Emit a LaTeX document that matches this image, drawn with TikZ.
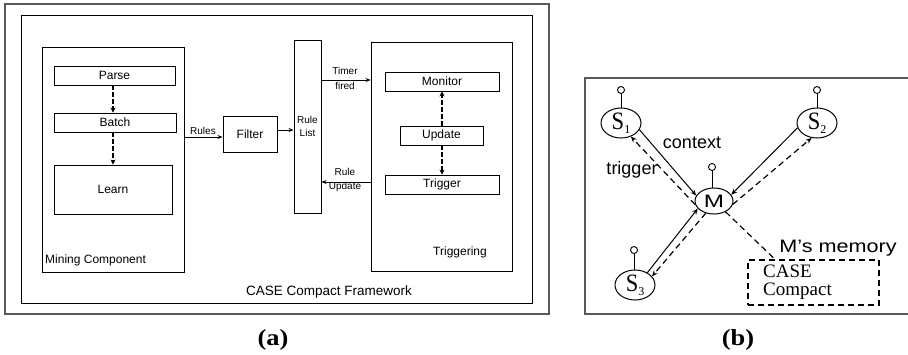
\documentclass[tikz,border=0pt]{standalone}
\usepackage{fontspec}
\usepackage{graphicx}
\setmainfont{Liberation Sans}
\newfontfamily\tnr{Liberation Serif}
\usetikzlibrary{arrows.meta,calc,shapes.geometric}
\tikzset{
  box/.style={draw, line width=0.9pt, inner sep=0pt, font=\fontsize{12}{14}\selectfont},
  lbl/.style={inner sep=0pt, font=\fontsize{10}{13}\selectfont, align=center},
  txt/.style={inner sep=0pt, font=\fontsize{12}{14}\selectfont},
  arr/.style={line width=0.9pt, -{Stealth[length=5pt,width=4pt]}},
  darr/.style={line width=1.9pt, dash pattern=on 4.5pt off 2.5pt, -{Stealth[length=5pt,width=5pt]}},
  frame/.style={draw=black!65, line width=1.3pt},
  st/.style={draw, ellipse, line width=1pt, inner sep=0pt, minimum width=40pt, minimum height=30pt},
  ant/.style={draw, circle, line width=0.9pt, inner sep=0pt, minimum size=7pt},
  barr/.style={line width=1pt, -{Stealth[length=6pt,width=5pt]}},
  bdarr/.style={line width=1.2pt, dash pattern=on 6pt off 4pt, -{Stealth[length=6pt,width=5pt]}},
  blbl/.style={inner sep=0pt, font=\fontsize{18}{20}\selectfont},
  captxt/.style={inner sep=0pt, font=\tnr\bfseries\fontsize{23}{24}\selectfont}
}
\newcommand{\sname}[1]{{\tnr\scalebox{0.9}[1]{\fontsize{25}{25}\selectfont S}\raisebox{-4pt}{\fontsize{12}{12}\selectfont #1}}}
\begin{document}
\begin{tikzpicture}[x=1pt,y=-1pt]
\useasboundingbox (0,0) rectangle (908,354);
% ---------- panel (a)
\draw[frame] (5,4) rectangle (549,314);
\draw[line width=1pt] (21,15) rectangle (532,303);
\node[box, minimum width=142pt, minimum height=225pt] (mining) at (113,159.5) {};
\node[box, minimum width=121pt, minimum height=19pt] (parse) at (114.5,75.5) {Parse};
\node[box, minimum width=122pt, minimum height=19pt] (batch) at (115,122.5) {Batch};
\node[box, minimum width=118pt, minimum height=49pt] (learn) at (113,189.5) {Learn};
\node[txt, anchor=west] (minlbl) at (45,260) {Mining Component};
\node[box, minimum width=54pt, minimum height=36pt] (filter) at (250,134) {Filter};
\node[box, minimum width=27pt, minimum height=173pt, font=\fontsize{10}{13}\selectfont, align=center] (rulelist) at (307.5,126.5) {Rule\\List};
\node[box, minimum width=141pt, minimum height=229pt] (trig) at (441.5,156.5) {};
\node[box, minimum width=114pt, minimum height=19pt] (monitor) at (442,81.5) {Monitor};
\node[box, minimum width=83pt, minimum height=19pt] (update) at (441.5,135.5) {Update};
\node[box, minimum width=114pt, minimum height=19pt] (trigger) at (442,184.5) {Trigger};
\node[txt] (triglbl) at (460,252) {Triggering};
\node[txt, font=\fontsize{13.5}{15}\selectfont] (caselbl) at (329,292) {CASE Compact Framework};

\draw[darr] (parse.south -| 113,0) -- (batch.north -| 113,0);
\draw[darr] (batch.south -| 113,0) -- (learn.north -| 113,0);
\draw[darr] (update.north -| 442,0) -- (monitor.south -| 442,0);
\draw[darr] (update.south -| 442,0) -- (trigger.north -| 442,0);

\draw[arr] (mining.east |- 0,137) -- (filter.west |- 0,137);
\node[lbl] (ruleslbl) at (203,131) {Rules};
\draw[arr] (filter.east |- 0,130) -- (rulelist.west |- 0,130);
\draw[arr] (rulelist.east |- 0,80) -- (trig.west |- 0,80);
\node[lbl, font=\fontsize{10}{15}\selectfont] (timerlbl) at (345,78.5) {Timer\\fired};
\draw[arr] (trig.west |- 0,182) -- (rulelist.east |- 0,182);
\node[lbl, font=\fontsize{10}{14}\selectfont] (rulupdlbl) at (345,180) {Rule\\Update};

\node[captxt] (capa) at (273,340) {\scalebox{1.15}[1]{(a)}};

% ---------- panel (b)
\draw[frame] (910,78) -- (585,78) -- (585,314) -- (910,314);
\node[st] (s1) at (621,123) {\sname{1}};
\node[st] (s2) at (817,123) {\sname{2}};
\node[st, minimum width=38pt, minimum height=26pt] (m) at (714,201) {\scalebox{1.35}[1]{\fontsize{18}{18}\selectfont M}};
\node[st] (s3) at (635,285) {\sname{3}};
\node[ant] (a1) at (621,90) {};
\node[ant] (a2) at (817,90) {};
\node[ant] (am) at (712,167) {};
\node[ant] (a3) at (634,250) {};
\draw[line width=0.9pt] (s1.north) -- (a1.south);
\draw[line width=0.9pt] (s2.north) -- (a2.south);
\draw[line width=0.9pt] (m.north -| am.south) -- (am.south);
\draw[line width=0.9pt] (s3.north -| a3.south) -- (a3.south);

\draw[barr] (s1.-20) -- (m.163);
\draw[bdarr] (m.-169) -- (s1.-54);
\draw[barr] (s2.194) -- (m.20);
\draw[bdarr] (m.-10) -- (s2.-110);
\draw[barr] (s3.45) -- (m.-155);
\draw[bdarr] (m.-124) -- (s3.27);

\node[draw, line width=1.2pt, dash pattern=on 6pt off 4pt, minimum width=131pt, minimum height=45pt, inner sep=0pt] (mem) at (813.5,282.5) {};
\node[inner sep=0pt, anchor=west, align=left, font=\tnr\fontsize{19}{18}\selectfont] (memtxt) at (763,282) {CASE\\Compact};
\draw[line width=1.2pt, dash pattern=on 6pt off 4pt] (m.-43) -- (775,0 |- mem.north);
\node[blbl] (memlbl) at (838,248) {\scalebox{1.2}[1]{M's memory}};
\node[blbl] (ctxlbl) at (692,143) {context};
\node[blbl] (trglbl) at (632,170) {trigger};

\node[captxt] (capb) at (738,340) {\scalebox{1.15}[1]{(b)}};
\end{tikzpicture}
\end{document}
